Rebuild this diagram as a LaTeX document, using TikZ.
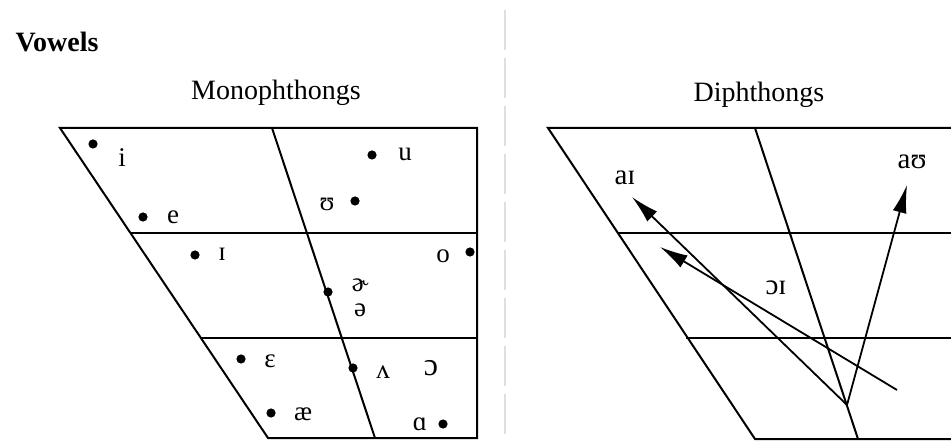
\documentclass[tikz,border=0pt]{standalone}
\usepackage{fontspec}
\setmainfont{Liberation Serif}
\usetikzlibrary{arrows.meta}
\tikzset{
  grid/.style={line width=1pt, black},
  vdot/.style={circle, fill=black, inner sep=0pt, minimum size=4.6pt},
  lab/.style={inner sep=0pt, font=\fontsize{13.5}{15}\selectfont},
  dlab/.style={inner sep=0pt, font=\fontsize{14.5}{16}\selectfont},
  arr/.style={line width=0.9pt, -{Latex[length=14pt,width=7pt]}},
  head/.style={inner sep=0pt, font=\fontsize{14}{16}\selectfont},
}
\begin{document}
\begin{tikzpicture}[x=0.5pt,y=-0.5pt]
\useasboundingbox (0,0) rectangle (951,442);
% divider
\draw[gray!25, line width=0.6pt, dash pattern=on 20pt off 4pt] (505,10) -- (505,442);
% titles
\node[head, font=\fontsize{14}{16}\selectfont\bfseries] (vowels) at (57,42) {Vowels};
\node[head] (mono) at (276,93) {Monophthongs};
\node[head] (diph) at (759,95) {Diphthongs};
% left chart
\coordinate (LTL) at (60,128); \coordinate (LTR) at (477,128);
\coordinate (L1L) at (130,233); \coordinate (L1R) at (477,233);
\coordinate (L2L) at (200,338); \coordinate (L2R) at (477,338);
\coordinate (LBL) at (268,438); \coordinate (LBR) at (477,438);
\coordinate (LIT) at (272,128); \coordinate (LIB) at (375,438);
\draw[grid] (LTL) -- (LTR) -- (LBR) -- (LBL) -- cycle;
\draw[grid] (L1L) -- (L1R);
\draw[grid] (L2L) -- (L2R);
\draw[grid] (LIT) -- (LIB);
% right chart
\coordinate (RTL) at (548,128); \coordinate (RTR) at (951,128);
\coordinate (R1L) at (618,233); \coordinate (R1R) at (951,233);
\coordinate (R2L) at (686,338); \coordinate (R2R) at (951,338);
\coordinate (RBL) at (755,439); \coordinate (RBR) at (951,439);
\coordinate (RIT) at (755,128); \coordinate (RIB) at (858,439);
\draw[grid] (RTR) -- (RTL) -- (RBL) -- (RBR);
\draw[grid] (R1L) -- (R1R);
\draw[grid] (R2L) -- (R2R);
\draw[grid] (RIT) -- (RIB);
% monophthong dots and labels
\node[vdot] (di) at (93,144) {};   \node[lab] (li) at (122,158) {i};
\node[vdot] (de) at (143,217) {};  \node[lab] (le) at (173,217) {e};
\node[vdot] (du) at (372,155) {};  \node[lab] (lu) at (405,154) {u};
\node[vdot] (dU) at (355,201) {};  \node[lab] (lU) at (327,204) {ʊ};
\node[vdot] (dI) at (195,255) {};  \node[lab] (lI) at (222,254) {ɪ};
\node[vdot] (do) at (470,252) {};  \node[lab] (lo) at (443,256) {o};
\node[vdot] (dschwa) at (328,292) {};
\node[lab] (lrschwa) at (360,285) {ɚ};
\node[lab] (lschwa) at (360,310) {ə};
\node[vdot] (deps) at (241,359) {}; \node[lab] (leps) at (270,361) {ɛ};
\node[vdot] (dwedge) at (353,368) {}; \node[lab] (lwedge) at (383,372) {ʌ};
\node[lab, font=\fontsize{16}{18}\selectfont] (lopen) at (431,368) {ɔ};
\node[vdot] (dae) at (271,413) {}; \node[lab] (lae) at (303,414) {æ};
\node[vdot] (dalpha) at (443,424) {}; \node[lab] (lalpha) at (420,424) {ɑ};
% diphthongs
\coordinate (S) at (847,405);
\coordinate (Soi) at (897,390);
\coordinate (Tai) at (632,197);
\coordinate (Toi) at (660,247);
\coordinate (Tau) at (907,185);
\draw[arr] (S) -- (Tai);
\draw[arr] (S) -- (Tau);
\draw[arr] (Soi) -- (Toi);
\node[dlab] (ai) at (625,178) {aɪ};
\node[dlab] (oi) at (776,288) {ɔɪ};
\node[dlab] (au) at (912,162) {aʊ};
\end{tikzpicture}
\end{document}
